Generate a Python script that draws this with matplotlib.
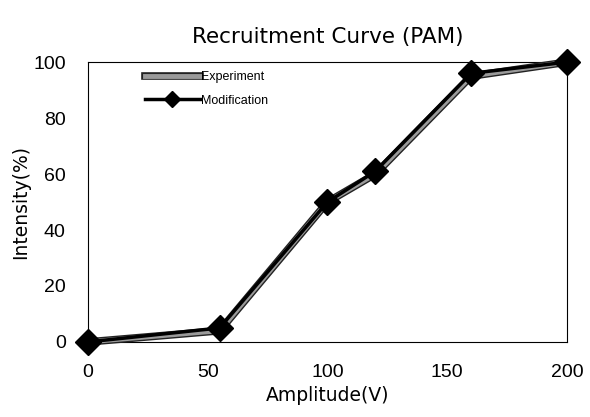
import numpy as np
import matplotlib
matplotlib.use("Agg")
import matplotlib.pyplot as plt
import matplotlib.patheffects as pe

plt.rcParams['font.family'] = ['Liberation Sans', 'DejaVu Sans']

amplitude = [0, 55, 100, 120, 160, 200]
experiment = [0, 4, 50, 60, 95, 100]
modification = [0, 5, 50, 61, 96, 100]

fig = plt.figure(figsize=(5.9, 4.17), dpi=100)
ax = fig.add_axes([0.149, 0.18, 0.812, 0.671])

ax.plot(amplitude, experiment, color='#9a9a9a', linewidth=3.5, clip_on=False,
        path_effects=[pe.Stroke(linewidth=5.5, foreground='#222222'), pe.Normal()],
        label='Experiment', zorder=3)
ax.plot(amplitude, modification, color='black', linewidth=2.5, marker='D',
        markersize=13, clip_on=False, label='Modification', zorder=4)

ax.set_xlim(0, 200)
ax.set_ylim(0, 100)
ax.set_xticks([0, 50, 100, 150, 200])
ax.set_yticks([0, 20, 40, 60, 80, 100])
ax.tick_params(length=0, labelsize=14)
ax.tick_params(axis='x', pad=16)
ax.tick_params(axis='y', pad=16)
for s in ax.spines.values():
    s.set_linewidth(0.8)

ax.set_xlabel('Amplitude(V)', fontsize=13.5, family='DejaVu Sans')
ax.set_ylabel('Intensity(%)', fontsize=13.5, family='DejaVu Sans')
ax.xaxis.set_label_coords(0.5, -0.158)
ax.yaxis.set_label_coords(-0.121, 0.5)
ax.set_title('Recruitment Curve (PAM)', fontsize=15.5, pad=14, family='DejaVu Sans')

leg = ax.legend(loc='upper left', bbox_to_anchor=(0.1, 1.0), frameon=False,
                fontsize=9, handlelength=4.4, handletextpad=0.1,
                labelspacing=0.95, markerscale=0.6, borderaxespad=0.3)

fig.savefig('out.png', dpi=100)
